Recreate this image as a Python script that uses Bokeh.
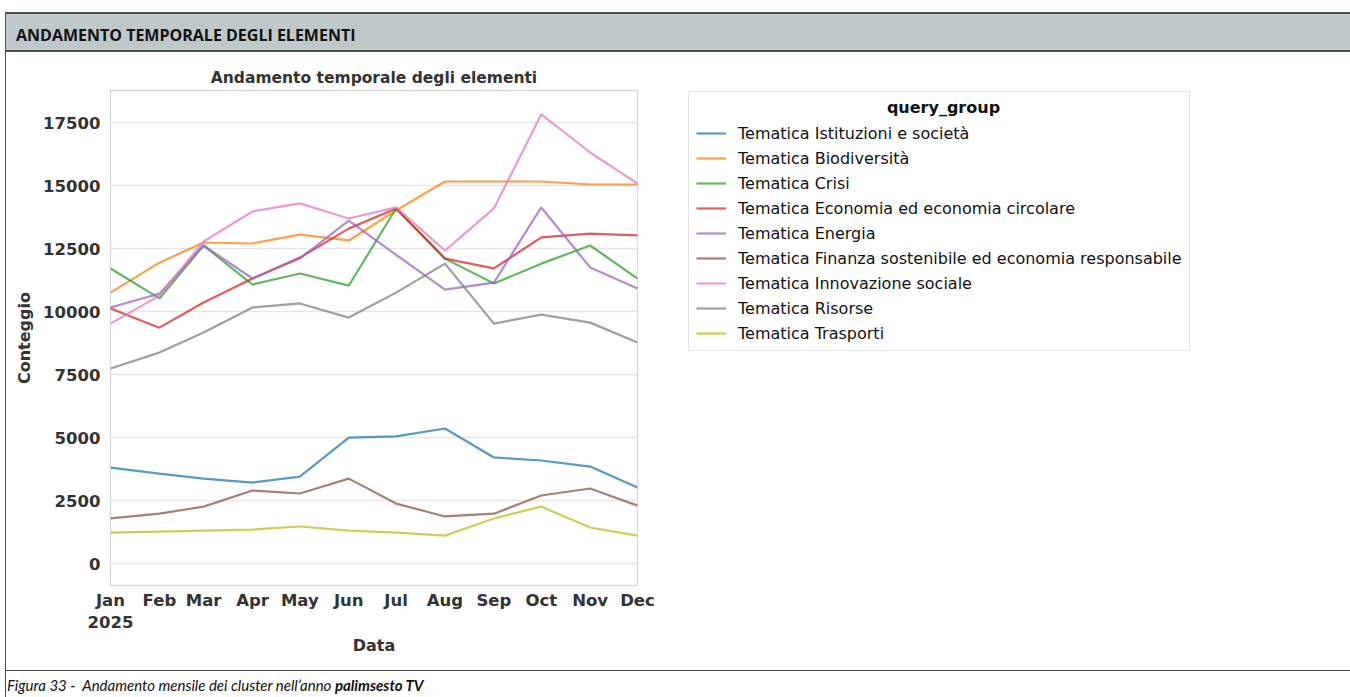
from datetime import datetime
from bokeh.plotting import figure
from bokeh.models import (Legend, LegendItem, Range1d, FixedTicker,
                          DatetimeTickFormatter, Div, Label, Spacer)
from bokeh.layouts import column, row
from bokeh.embed import file_html
from bokeh.resources import INLINE

# ---------------- data ----------------
months = [datetime(2025, m, 1) for m in range(1, 13)]

series_names = [
    "Tematica Istituzioni e società",
    "Tematica Biodiversità",
    "Tematica Crisi",
    "Tematica Economia ed economia circolare",
    "Tematica Energia",
    "Tematica Finanza sostenibile ed economia responsabile",
    "Tematica Innovazione sociale",
    "Tematica Risorse",
    "Tematica Trasporti",
]
istituzioni = [3810, 3570, 3370, 3210, 3450, 5000, 5050, 5360, 4210, 4090, 3850, 3020]
biodiversita = [10750, 11940, 12740, 12700, 13050, 12820, 14010, 15160, 15160, 15160, 15040, 15040]
crisi = [11710, 10520, 12620, 11070, 11510, 11030, 14090, 12100, 11110, 11900, 12620, 11310]
economia = [10120, 9360, 10360, 11310, 12140, 13290, 14090, 12100, 11710, 12940, 13090, 13020]
energia = [10160, 10710, 12620, 11310, 12100, 13610, 12250, 10870, 11150, 14130, 11750, 10910]
finanza = [1790, 1980, 2260, 2900, 2780, 3370, 2380, 1870, 1980, 2700, 2980, 2300]
innovazione = [9520, 10630, 12780, 13970, 14290, 13690, 14130, 12420, 14090, 17820, 16310, 15080]
risorse = [7740, 8370, 9170, 10160, 10320, 9760, 10750, 11900, 9520, 9880, 9560, 8770]
trasporti = [1230, 1270, 1310, 1350, 1470, 1310, 1230, 1110, 1790, 2260, 1430, 1110]
series_values = [istituzioni, biodiversita, crisi, economia, energia,
                 finanza, innovazione, risorse, trasporti]
y_ticks = [0, 2500, 5000, 7500, 10000, 12500, 15000, 17500]

colors = ["#1f77b4", "#ff7f0e", "#2ca02c", "#d62728", "#9467bd",
          "#8c564b", "#e377c2", "#7f7f7f", "#bcbd22"]

FONT = "DejaVu Sans"
BORDER = "#4d4d4d"

# ---------------- header ----------------
header = Div(
    text="ANDAMENTO TEMPORALE DEGLI ELEMENTI",
    width=1345, height=40, margin=0,
    styles={"background-color": "#bfc9ca",
            "border-top": f"2px solid {BORDER}",
            "border-bottom": f"2px solid {BORDER}",
            "border-left": f"1px solid {BORDER}",
            "box-sizing": "border-box",
            "padding-left": "10px", "padding-top": "3px",
            "font-family": "Open Sans", "font-weight": "bold",
            "font-size": "16px", "line-height": "36px",
            "color": "#111111", "white-space": "nowrap"})

# ---------------- main chart ----------------
p = figure(width=651, height=618, x_axis_type="datetime",
           output_backend="svg", toolbar_location=None,
           x_range=Range1d(months[0], months[-1]),
           y_range=Range1d(-870, 18770),
           min_border_left=104, min_border_right=20,
           min_border_top=38, min_border_bottom=85,
           title="Andamento temporale degli elementi")

p.title.align = "center"
p.title.text_font = FONT
p.title.text_font_style = "bold"
p.title.text_font_size = "15.5px"
p.title.text_color = "#333333"
p.title.standoff = 8

epoch = datetime(1970, 1, 1)
p.xaxis.ticker = FixedTicker(ticks=[(m - epoch).total_seconds() * 1000 for m in months])
p.xaxis.formatter = DatetimeTickFormatter(
    months="%b", days="%b",
    context=DatetimeTickFormatter(months="%Y", days="%Y"),
    context_which="start", context_location="below")
p.yaxis.ticker = FixedTicker(ticks=y_ticks)

p.xaxis.axis_label = "Data"
p.yaxis.axis_label = "Conteggio"
for ax in (p.xaxis[0], p.yaxis[0]):
    ax.axis_line_color = None
    ax.major_tick_line_color = None
    ax.minor_tick_line_color = None
    ax.major_tick_out = 0
    ax.major_label_text_font = FONT
    ax.major_label_text_font_style = "bold"
    ax.major_label_text_font_size = "16.5px"
    ax.major_label_text_color = "#333333"
    ax.axis_label_text_font = FONT
    ax.axis_label_text_font_style = "bold"
    ax.axis_label_text_font_size = "16px"
    ax.axis_label_text_color = "#333333"
p.xaxis.axis_label_standoff = 1
p.yaxis.axis_label_standoff = 6
p.xaxis.major_label_standoff = 5
p.yaxis.major_label_standoff = 10

p.xgrid.grid_line_color = None
p.ygrid.grid_line_color = "#e6e6e6"
p.ygrid.grid_line_width = 1.3
p.outline_line_color = "#d9d9d9"
p.outline_line_width = 1.3
p.background_fill_color = "white"
p.border_fill_color = "white"

for vals, col in zip(series_values, colors):
    p.line(months, vals, line_color=col, line_width=2.2, line_alpha=0.75)

# ---------------- legend panel (same series, hidden lines) ----------------
lg = figure(width=693, height=618, output_backend="svg", toolbar_location=None,
            x_range=p.x_range, y_range=p.y_range, x_axis_type="datetime",
            x_axis_location=None, y_axis_location=None, min_border=0,
            outline_line_color=None, title=None)
lg.grid.visible = False
lg.background_fill_color = "white"
lg.border_fill_color = "white"

items = []
for name, vals, col in zip(series_names, series_values, colors):
    r = lg.line(months, vals, line_color=col, line_width=2.2, line_alpha=0.75,
                visible=False)
    items.append(LegendItem(label=name, renderers=[r]))

legend = Legend(items=items, location=(31, 234), title=" ",
                padding=7, spacing=5, label_height=20, glyph_height=20,
                glyph_width=30, label_standoff=12, margin=0,
                label_text_font=FONT, label_text_font_size="16px",
                label_text_color="#111111",
                title_text_font=FONT, title_text_font_size="16px",
                title_standoff=5,
                inactive_fill_alpha=0,
                border_line_color="#cccccc", border_line_width=1.3,
                background_fill_alpha=0)
lg.add_layout(legend)

lg.add_layout(Label(x=286, y=478, x_units="screen", y_units="screen",
                    text="query_group", text_align="center", text_baseline="middle",
                    text_font=FONT, text_font_style="bold", text_font_size="16px",
                    text_color="#111111"))

vline = Div(text="", width=1, height=618, margin=0,
            styles={"background-color": BORDER})

caption = Div(
    text=("Figura 33 -&nbsp; Andamento mensile dei cluster nell\u2019anno "
          "<b>palimsesto TV</b>"),
    width=1345, height=27, margin=0,
    styles={"border-top": f"1px solid {BORDER}",
            "border-left": f"1px solid {BORDER}",
            "box-sizing": "border-box", "overflow": "hidden",
            "padding-top": "7px", "padding-left": "1px",
            "font-family": "Lato", "font-style": "italic",
            "font-size": "15px", "line-height": "15px",
            "color": "#111111", "white-space": "nowrap"})

layout = column(
    Spacer(width=1350, height=12, margin=0),
    row(Spacer(width=5, height=40, margin=0), header, spacing=0),
    row(Spacer(width=5, height=618, margin=0), vline, p, lg, spacing=0),
    row(Spacer(width=5, height=27, margin=0), caption, spacing=0),
    spacing=0)

with open("out.html", "w") as f:
    f.write(file_html(layout, INLINE))
